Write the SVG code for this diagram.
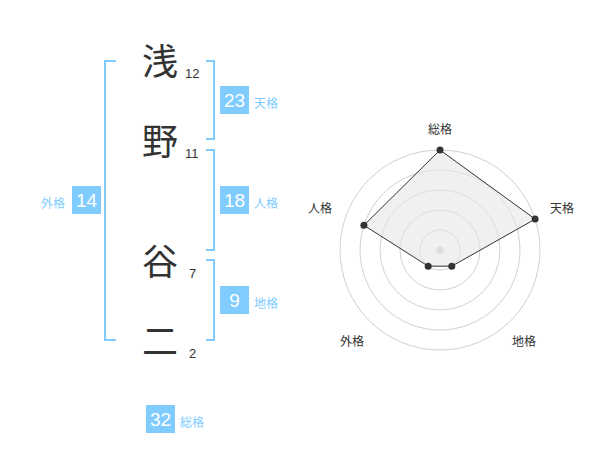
<svg xmlns="http://www.w3.org/2000/svg" width="600" height="470" viewBox="0 0 600 470">
<style>
.k{font-family:"Noto Sans CJK JP","Noto Sans CJK SC",sans-serif;font-size:36px;fill:#333;text-anchor:middle}
.n{font-family:"Liberation Sans",Arial,sans-serif;font-size:13px;fill:#333}
.br{fill:none;stroke:#80ccff;stroke-width:2}
.box{fill:#80ccff}
.bn{font-family:"Liberation Sans",Arial,sans-serif;font-size:19px;fill:#fff;text-anchor:middle}
.bl{font-family:"Noto Sans CJK JP","Noto Sans CJK SC",sans-serif;font-size:12px;fill:#80ccff}
.ring{fill:none;stroke:#d0d0d0;stroke-width:1}
.ax{font-family:"Noto Sans CJK JP","Noto Sans CJK SC",sans-serif;font-size:12px;fill:#333;text-anchor:middle}
.dot{fill:#333}
</style>
<rect width="600" height="470" fill="#fff"/>
<g id="chars">
<text class="k" x="160" y="75">浅</text>
<text class="n" x="185" y="78">12</text>
<text class="k" x="160" y="155">野</text>
<text class="n" x="185" y="158">11</text>
<text class="k" x="160" y="275">谷</text>
<text class="n" x="189" y="278">7</text>
<text class="k" x="160" y="355">二</text>
<text class="n" x="189" y="358">2</text>
</g>
<g id="connectors">
<path class="br" d="M116,61 H105 V340 H116"/>
<path class="br" d="M206,61 H214 V139 H206"/>
<path class="br" d="M206,150 H214 V250 H206"/>
<path class="br" d="M206,260 H214 V340 H206"/>
</g>
<g id="tenkaku">
<rect class="box" x="220" y="86" width="29" height="28"/>
<text class="bn" x="234.5" y="107">23</text>
<text class="bl" x="254" y="108">天格</text>
</g>
<g id="jinkaku">
<rect class="box" x="220" y="186" width="29" height="28"/>
<text class="bn" x="234.5" y="207">18</text>
<text class="bl" x="254" y="208">人格</text>
</g>
<g id="gaikaku">
<rect class="box" x="72" y="186" width="29" height="28"/>
<text class="bn" x="86.5" y="207">14</text>
<text class="bl" x="41" y="208">外格</text>
</g>
<g id="chikaku">
<rect class="box" x="220" y="286" width="29" height="28"/>
<text class="bn" x="234.5" y="307">9</text>
<text class="bl" x="254" y="308">地格</text>
</g>
<g id="soukaku">
<rect class="box" x="146" y="405" width="29" height="28"/>
<text class="bn" x="160.5" y="426">32</text>
<text class="bl" x="180" y="427">総格</text>
</g>
<g id="radar">
<circle class="ring" cx="440" cy="250" r="20"/>
<circle class="ring" cx="440" cy="250" r="40"/>
<circle class="ring" cx="440" cy="250" r="60"/>
<circle class="ring" cx="440" cy="250" r="80"/>
<circle class="ring" cx="440" cy="250" r="100"/>
<circle cx="440" cy="250" r="3.5" fill="#ccc"/>
<polygon points="440,150 535.1,219.1 451.8,266.2 428.2,266.2 363.9,225.3" fill="#e6e6e6" fill-opacity="0.6" stroke="#333" stroke-width="1"/>
<circle class="dot" cx="440" cy="150" r="3.5"/>
<circle class="dot" cx="535.1" cy="219.1" r="3.5"/>
<circle class="dot" cx="451.8" cy="266.2" r="3.5"/>
<circle class="dot" cx="428.2" cy="266.2" r="3.5"/>
<circle class="dot" cx="363.9" cy="225.3" r="3.5"/>
<text class="ax" x="440" y="134">総格</text>
<text class="ax" x="562" y="213">天格</text>
<text class="ax" x="320" y="213">人格</text>
<text class="ax" x="352" y="346">外格</text>
<text class="ax" x="524" y="346">地格</text>
</g>
</svg>
